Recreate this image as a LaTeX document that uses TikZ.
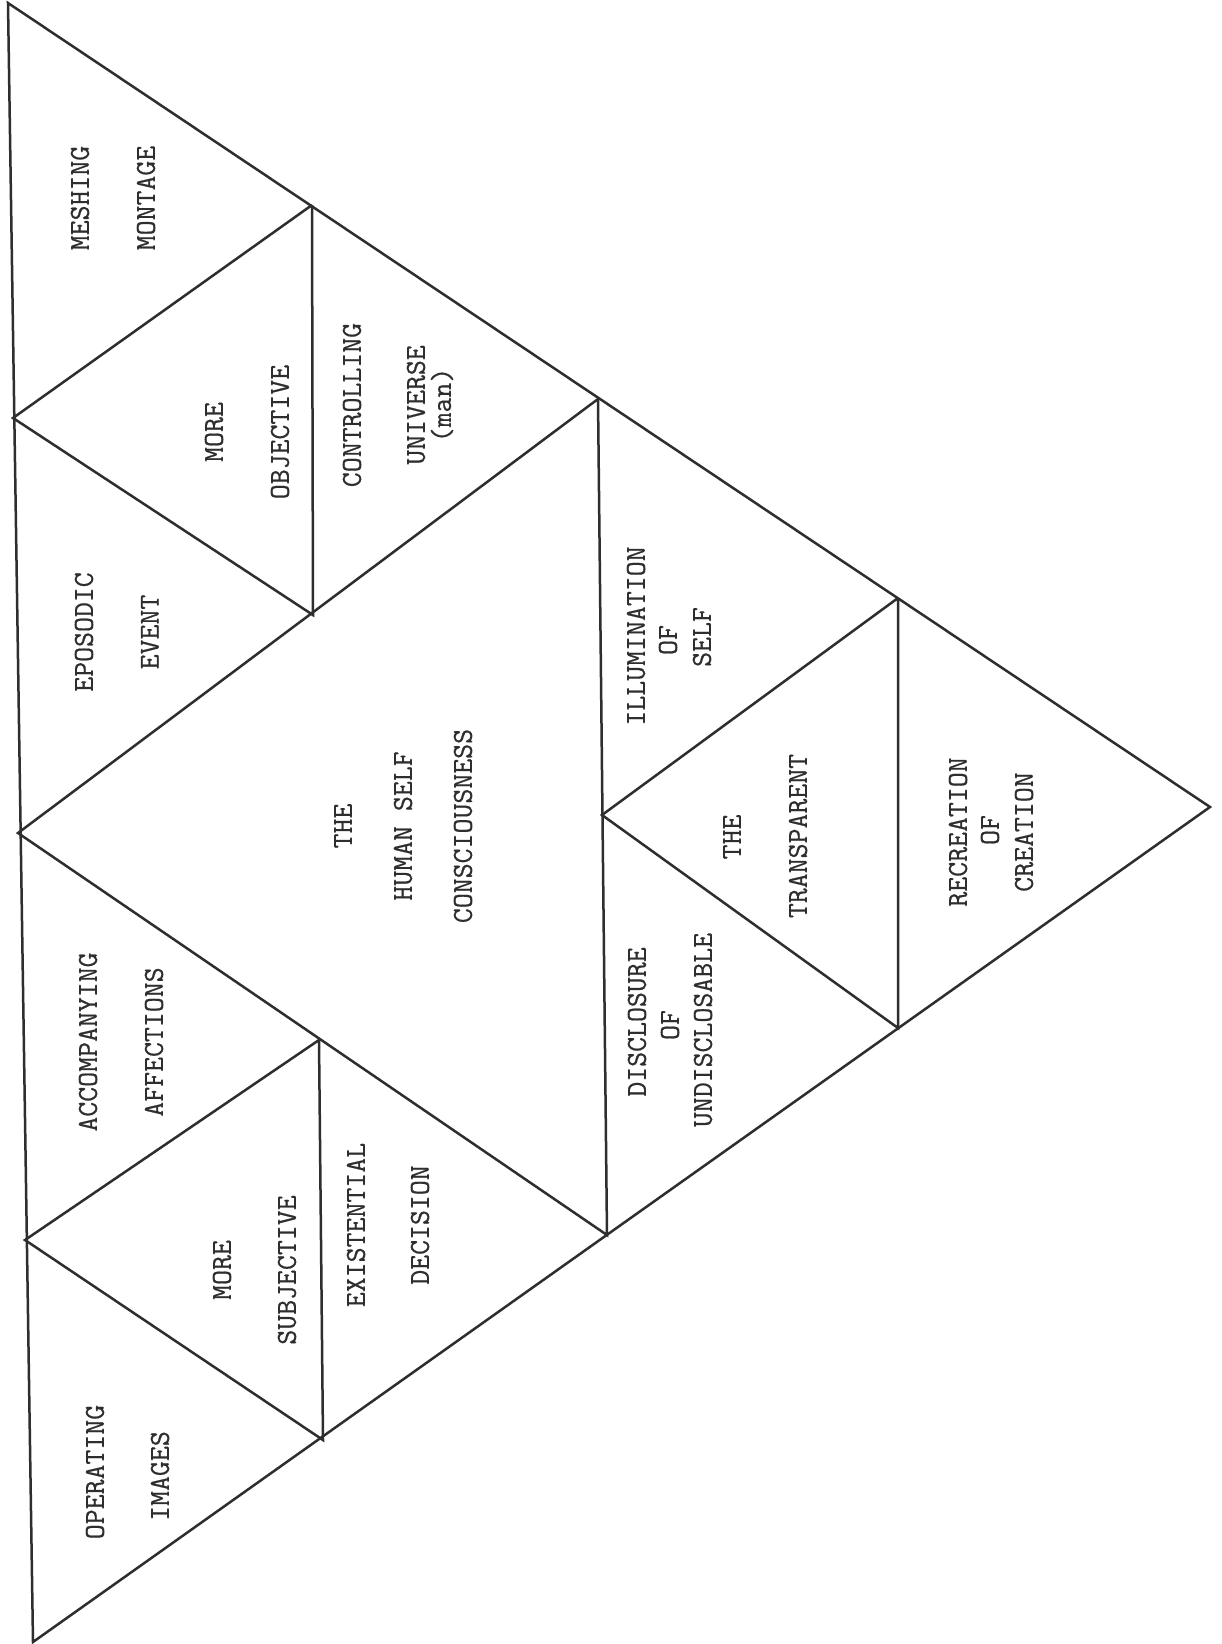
\documentclass[tikz,border=0pt]{standalone}
\usepackage{fontspec}
\newfontfamily\typewriter[FakeBold=0.6]{Latin Modern Mono}
\begin{document}
\begin{tikzpicture}[x=0.5pt,y=-0.5pt,
  edge/.style={draw=ink,line width=1.25pt,line join=miter},
  lbl/.style={rotate=90,inner sep=0pt,text=ink,font=\typewriter\fontsize{14.5}{17}\selectfont}]
\definecolor{ink}{HTML}{2E2E2E}
\useasboundingbox[fill=white] (0,0) rectangle (1221,1644);
% main vertices
\coordinate (A) at (8,3);
\coordinate (B) at (33,1642);
\coordinate (C) at (1210,807);
\coordinate (mAB) at (18,833);
\coordinate (mAC) at (598,399);
\coordinate (mBC) at (607,1235);
% top corner subdivision
\coordinate (a1) at (13,418);
\coordinate (a2) at (312,205);
\coordinate (a3) at (313,615);
% bottom corner subdivision
\coordinate (b1) at (25,1240);
\coordinate (b2) at (319,1040);
\coordinate (b3) at (323,1440);
% apex subdivision
\coordinate (c1) at (602,815);
\coordinate (c2) at (898,598);
\coordinate (c3) at (898,1028);
% outline
\draw[edge] (A) -- (B) -- (C) -- cycle;
% central triangle
\draw[edge] (mAC) -- (mAB) -- (mBC) -- (mAC);
% inner triangles
\draw[edge] (a2) -- (a1) -- (a3) -- (a2);
\draw[edge] (b2) -- (b1) -- (b3) -- (b2);
\draw[edge] (c2) -- (c1) -- (c3) -- (c2);
% labels: top corner
\node[lbl] (t1) at (80,198) {MESHING};
\node[lbl] (t2) at (146,198) {MONTAGE};
\node[lbl] (t3) at (214,432) {MORE};
\node[lbl] (t4) at (280,432) {OBJECTIVE};
\node[lbl] (t5) at (84,632) {EPOSODIC};
\node[lbl] (t6) at (150,632) {EVENT};
\node[lbl] (t7) at (352,405) {CONTROLLING};
\node[lbl] (t8) at (416,405) {UNIVERSE};
\node[lbl] (t9) at (442,405) {(man)};
% central
\node[lbl] (m1) at (343,826) {THE};
\node[lbl] (m2) at (403,826) {HUMAN SELF};
\node[lbl] (m3) at (463,826) {CONSCIOUSNESS};
% bottom corner
\node[lbl] (u1) at (88,1042) {ACCOMPANYING};
\node[lbl] (u2) at (154,1042) {AFFECTIONS};
\node[lbl] (u3) at (222,1270) {MORE};
\node[lbl] (u4) at (287,1270) {SUBJECTIVE};
\node[lbl] (u5) at (356,1225) {EXISTENTIAL};
\node[lbl] (u6) at (420,1225) {DECISION};
\node[lbl] (u7) at (95,1472) {OPERATING};
\node[lbl] (u8) at (160,1476) {IMAGES};
% apex
\node[lbl] (p1) at (636,636) {ILLUMINATION};
\node[lbl] (p2) at (668,640) {OF};
\node[lbl] (p3) at (702,637) {SELF};
\node[lbl] (p4) at (637,1022) {DISCLOSURE};
\node[lbl] (p5) at (670,1025) {OF};
\node[lbl] (p6) at (703,1030) {UNDISCLOSABLE};
\node[lbl] (p7) at (732,837) {THE};
\node[lbl] (p8) at (798,836) {TRANSPARENT};
\node[lbl] (p9) at (958,832) {RECREATION};
\node[lbl] (p10) at (990,830) {OF};
\node[lbl] (p11) at (1024,832) {CREATION};
\end{tikzpicture}
\end{document}
